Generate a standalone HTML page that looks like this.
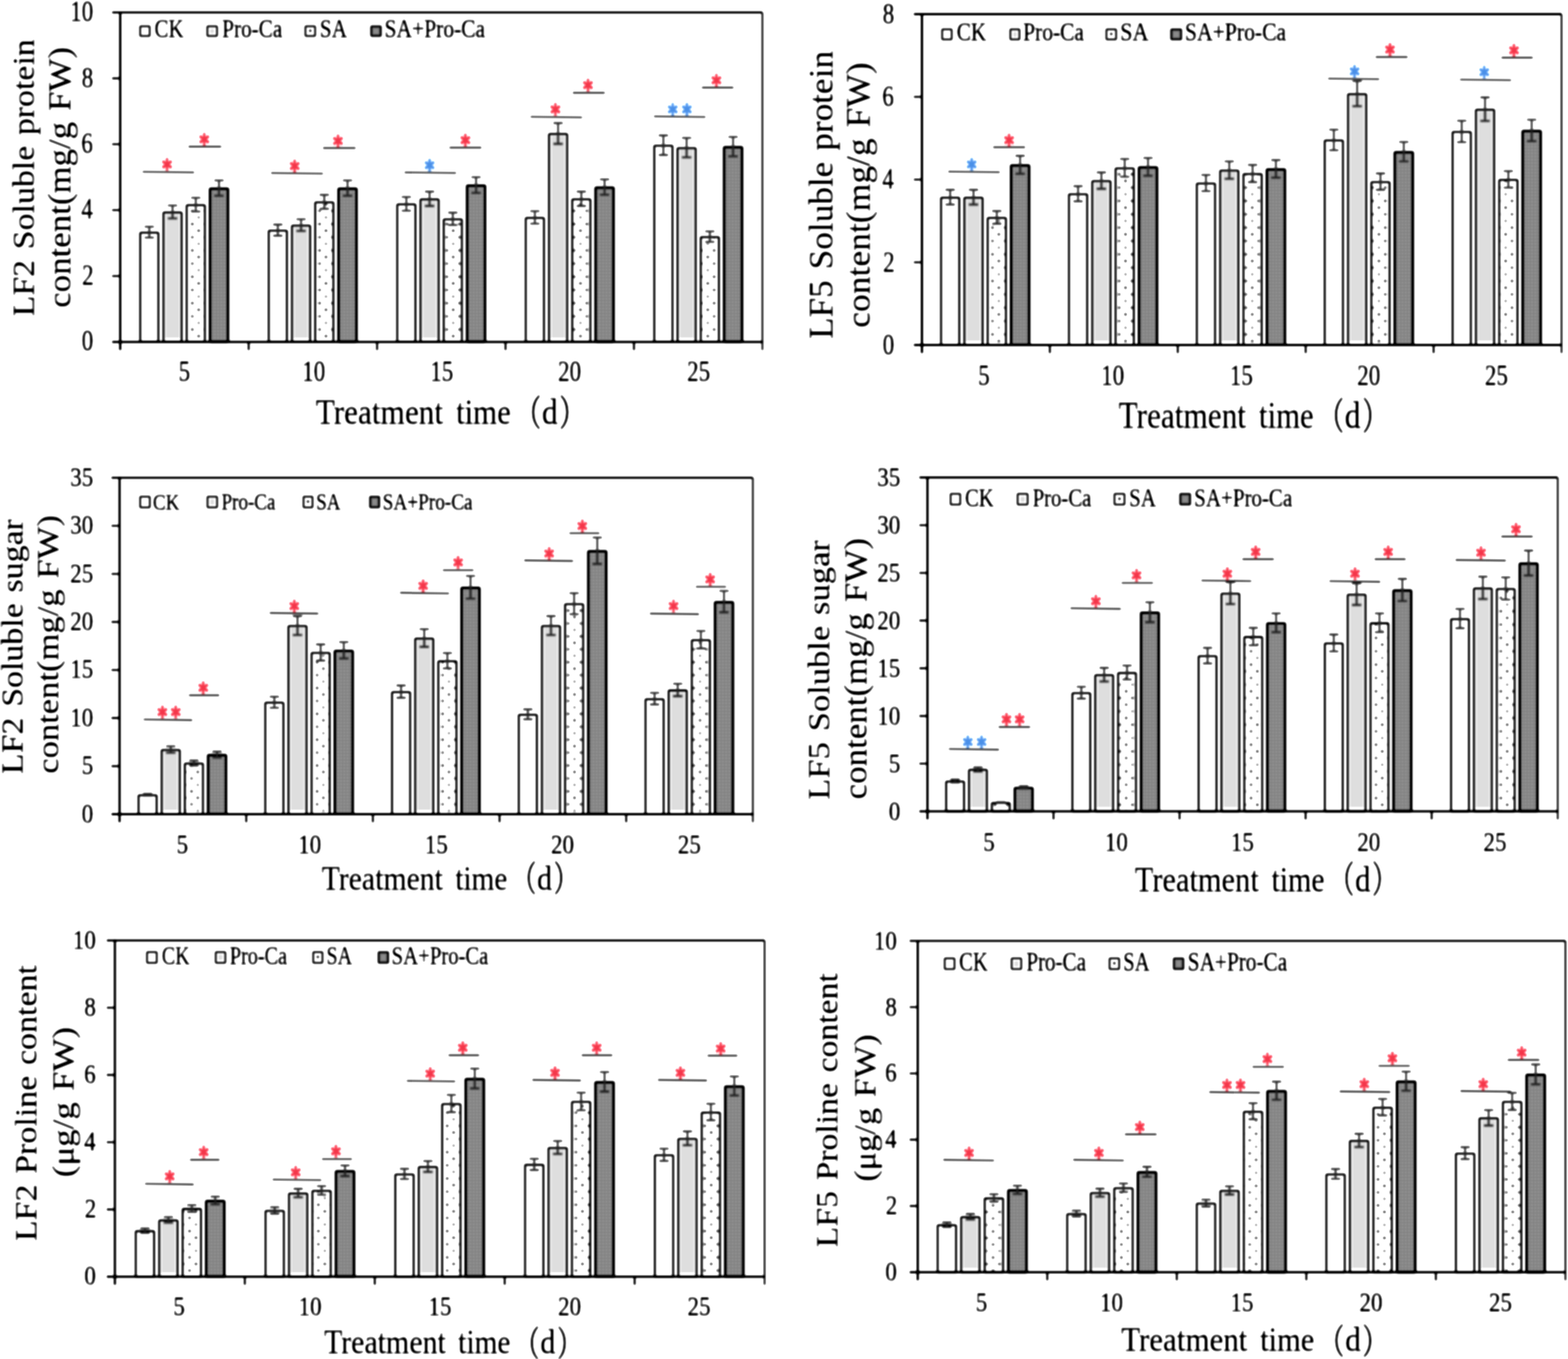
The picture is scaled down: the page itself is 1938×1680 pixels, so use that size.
<!DOCTYPE html>
<html lang="en"><head><meta charset="utf-8"><title>Soluble protein, soluble sugar and proline content</title>
<style>html,body{margin:0;padding:0;background:#fff}body{width:1938px;height:1680px;overflow:hidden}svg{display:block;font-family:"Liberation Serif","Noto Serif CJK SC",serif}text.s{stroke-width:0.6px}text.p{stroke-width:1.3px}svg{filter:blur(0.8px) contrast(1.4)}</style></head><body>
<svg width="1938" height="1680" viewBox="0 0 1938 1680">
<rect width="1938" height="1680" fill="#fff"/>
<defs><filter id="tx" x="-2%" y="-2%" width="104%" height="104%" color-interpolation-filters="sRGB"><feGaussianBlur stdDeviation="1.15"/><feComponentTransfer><feFuncA type="linear" slope="2.2" intercept="-0.6"/></feComponentTransfer></filter></defs>
<defs><pattern id="dark" patternUnits="userSpaceOnUse" width="4" height="4"><rect width="4" height="4" fill="#7d7d7d"/><rect x="0.5" y="0.5" width="2" height="2" fill="#9f9f9f"/></pattern></defs>
<g id="panelA">
<defs><pattern id="dotsA" patternUnits="userSpaceOnUse" x="235.7" y="340.2" width="15.73" height="32.6"><rect width="15.73" height="32.6" fill="#fff"/><circle cx="2" cy="2" r="1.75" fill="#222"/><circle cx="2" cy="18.3" r="1.75" fill="#3a3a3a"/><circle cx="9.87" cy="10.15" r="1.75" fill="#2c2c2c"/><circle cx="9.87" cy="26.45" r="1.7" fill="#666"/></pattern></defs>
<rect x="173.31" y="287.6" width="22.46" height="135.1" fill="#fff" stroke="#111" stroke-width="2.8" stroke-linejoin="round" rx="1.4"/>
<rect x="202.03" y="262.6" width="22.46" height="160.1" fill="#fff" stroke="#111" stroke-width="2.8" stroke-linejoin="round" rx="1.4"/>
<rect x="204.63" y="264.6" width="17.26" height="153.5" fill="#c3c3c3"/>
<rect x="230.75" y="253.6" width="22.46" height="169.1" fill="url(#dotsA)" stroke="#111" stroke-width="2.8" stroke-linejoin="round" rx="1.4"/>
<rect x="259.47" y="233.1" width="22.46" height="189.6" fill="url(#dark)" stroke="#0a0a0a" stroke-width="3.2" stroke-linejoin="round" rx="1.4"/>
<rect x="332.16" y="285.1" width="22.46" height="137.6" fill="#fff" stroke="#111" stroke-width="2.8" stroke-linejoin="round" rx="1.4"/>
<rect x="360.88" y="278.85" width="22.46" height="143.85" fill="#fff" stroke="#111" stroke-width="2.8" stroke-linejoin="round" rx="1.4"/>
<rect x="363.48" y="280.85" width="17.26" height="137.25" fill="#c3c3c3"/>
<rect x="389.6" y="250.1" width="22.46" height="172.6" fill="url(#dotsA)" stroke="#111" stroke-width="2.8" stroke-linejoin="round" rx="1.4"/>
<rect x="418.32" y="233.1" width="22.46" height="189.6" fill="url(#dark)" stroke="#0a0a0a" stroke-width="3.2" stroke-linejoin="round" rx="1.4"/>
<rect x="491" y="252.6" width="22.46" height="170.1" fill="#fff" stroke="#111" stroke-width="2.8" stroke-linejoin="round" rx="1.4"/>
<rect x="519.72" y="246.35" width="22.46" height="176.35" fill="#fff" stroke="#111" stroke-width="2.8" stroke-linejoin="round" rx="1.4"/>
<rect x="522.32" y="248.35" width="17.26" height="169.75" fill="#c3c3c3"/>
<rect x="548.44" y="271.1" width="22.46" height="151.6" fill="url(#dotsA)" stroke="#111" stroke-width="2.8" stroke-linejoin="round" rx="1.4"/>
<rect x="577.16" y="229.35" width="22.46" height="193.35" fill="url(#dark)" stroke="#0a0a0a" stroke-width="3.2" stroke-linejoin="round" rx="1.4"/>
<rect x="649.84" y="269.35" width="22.46" height="153.35" fill="#fff" stroke="#111" stroke-width="2.8" stroke-linejoin="round" rx="1.4"/>
<rect x="678.56" y="165.6" width="22.46" height="257.1" fill="#fff" stroke="#111" stroke-width="2.8" stroke-linejoin="round" rx="1.4"/>
<rect x="681.16" y="167.6" width="17.26" height="250.5" fill="#c3c3c3"/>
<rect x="707.28" y="246.35" width="22.46" height="176.35" fill="url(#dotsA)" stroke="#111" stroke-width="2.8" stroke-linejoin="round" rx="1.4"/>
<rect x="736.01" y="231.85" width="22.46" height="190.85" fill="url(#dark)" stroke="#0a0a0a" stroke-width="3.2" stroke-linejoin="round" rx="1.4"/>
<rect x="808.69" y="180.1" width="22.46" height="242.6" fill="#fff" stroke="#111" stroke-width="2.8" stroke-linejoin="round" rx="1.4"/>
<rect x="837.41" y="183.1" width="22.46" height="239.6" fill="#fff" stroke="#111" stroke-width="2.8" stroke-linejoin="round" rx="1.4"/>
<rect x="840.01" y="185.1" width="17.26" height="233" fill="#c3c3c3"/>
<rect x="866.13" y="293.1" width="22.46" height="129.6" fill="url(#dotsA)" stroke="#111" stroke-width="2.8" stroke-linejoin="round" rx="1.4"/>
<rect x="894.85" y="181.85" width="22.46" height="240.85" fill="url(#dark)" stroke="#0a0a0a" stroke-width="3.2" stroke-linejoin="round" rx="1.4"/>
<path d="M184.54 280.21V293.79M178.79 280.21H190.29M178.79 293.79H190.29M213.26 253.97V270.04M207.51 253.97H219.01M207.51 270.04H219.01M241.99 244.51V261.49M236.24 244.51H247.74M236.24 261.49H247.74M270.71 222.99V242.01M264.96 222.99H276.46M264.96 242.01H276.46M343.39 277.59V291.41M337.64 277.59H349.14M337.64 291.41H349.14M372.11 271.03V285.47M366.36 271.03H377.86M366.36 285.47H377.86M400.83 240.84V258.16M395.08 240.84H406.58M395.08 258.16H406.58M429.55 222.99V242.01M423.8 222.99H435.3M423.8 242.01H435.3M502.23 243.47V260.54M496.48 243.47H507.98M496.48 260.54H507.98M530.95 236.9V254.6M525.2 236.9H536.7M525.2 254.6H536.7M559.67 262.89V278.11M553.92 262.89H565.42M553.92 278.11H565.42M588.39 219.05V238.45M582.64 219.05H594.14M582.64 238.45H594.14M661.08 261.05V276.45M655.33 261.05H666.83M655.33 276.45H666.83M689.8 152.12V177.88M684.05 152.12H695.55M684.05 177.88H695.55M718.52 236.9V254.6M712.77 236.9H724.27M712.77 254.6H724.27M747.24 221.68V240.82M741.49 221.68H752.99M741.49 240.82H752.99M819.92 167.34V191.66M814.17 167.34H825.67M814.17 191.66H825.67M848.64 170.49V194.51M842.89 170.49H854.39M842.89 194.51H854.39M877.36 285.99V299.01M871.61 285.99H883.11M871.61 299.01H883.11M906.08 169.18V193.32M900.33 169.18H911.83M900.33 193.32H911.83" fill="none" stroke="#3a3a3a" stroke-width="2.6"/>
<path d="M138.6 15.4H942.3" stroke="#000" stroke-width="2.9" fill="none"/>
<path d="M942.3 15.4V432.7" stroke="#111" stroke-width="2.4" fill="none"/>
<path d="M148.6 14.4V432.7" stroke="#000" stroke-width="3.0" fill="none"/>
<path d="M138.6 422.7H943.1" stroke="#000" stroke-width="3.0" fill="none"/>
<path d="M138.6 341.24H148.6M138.6 259.78H148.6M138.6 178.32H148.6M138.6 96.86H148.6M307.34 422.7V432.7M466.08 422.7V432.7M624.82 422.7V432.7M783.56 422.7V432.7" stroke="#000" stroke-width="2.6" fill="none"/>
<rect x="173.25" y="32.5" width="11.75" height="12" rx="1.0" fill="#fff" stroke="#111" stroke-width="2.5" stroke-linejoin="round"/>
<rect x="256.25" y="32.5" width="12" height="12" rx="1.0" fill="#fff" stroke="#111" stroke-width="2.5" stroke-linejoin="round"/>
<rect x="259.2" y="35.45" width="6.1" height="6.1" fill="#c2c2c2"/>
<rect x="377.5" y="32.5" width="12" height="12" rx="1.0" fill="#fff" stroke="#111" stroke-width="2.5" stroke-linejoin="round"/>
<circle cx="383.5" cy="38" r="1.8" fill="#222"/>
<rect x="458.75" y="32.5" width="12" height="12" rx="1.0" fill="#737373" stroke="#111" stroke-width="2.5" stroke-linejoin="round"/>
<rect x="461.5" y="35.25" width="6.5" height="6.5" fill="#878787"/>
<path d="M176.25 212.35L240 213.15M233 181.25L273.5 181.25M335 213.85L399.25 214.65M399.25 183L439.5 183M500 213.1L563.75 213.9M555.5 182.5L595 182.5M655.75 144.35L719.5 145.15M708 114.75L747.5 114.75M808.25 143.85L872 144.65M867.5 108.25L906.5 108.25" stroke="#333" stroke-width="2.4" fill="none"/>
<g stroke="#000" stroke-width="0.35">
<text transform="translate(101.04,433.35) scale(0.7808,1)" font-size="36.5" fill="#000" class="s">0</text>
<text transform="translate(101.49,351.89) scale(0.7808,1)" font-size="36.5" fill="#000" class="s">2</text>
<text transform="translate(100.6,270.43) scale(0.7808,1)" font-size="36.5" fill="#000" class="s">4</text>
<text transform="translate(100.6,188.97) scale(0.7808,1)" font-size="36.5" fill="#000" class="s">6</text>
<text transform="translate(101.04,107.51) scale(0.7808,1)" font-size="36.5" fill="#000" class="s">8</text>
<text transform="translate(86.79,26.05) scale(0.7808,1)" font-size="36.5" fill="#000" class="s">10</text>
<text transform="translate(220.65,471.25) scale(0.7808,1)" font-size="36.5" fill="#000" class="s">5</text>
<text transform="translate(373.48,471.25) scale(0.7808,1)" font-size="36.5" fill="#000" class="s">10</text>
<text transform="translate(531.68,471.25) scale(0.7808,1)" font-size="36.5" fill="#000" class="s">15</text>
<text transform="translate(689.65,471.25) scale(0.7808,1)" font-size="36.5" fill="#000" class="s">20</text>
<text transform="translate(849.15,471.25) scale(0.7808,1)" font-size="36.5" fill="#000" class="s">25</text>
<text transform="translate(390.15,523.75) scale(0.8853,1)" font-size="43.7" fill="#000">Treatment</text>
<text transform="translate(563.68,523.75) scale(0.8705,1)" font-size="43.7" fill="#000">time</text>
<text transform="translate(638.7,526.35) scale(0.6776,1)" font-size="43.7" fill="#000" class="p" font-family="'Liberation Serif','Noto Serif CJK SC',serif">（</text>
<text transform="translate(669.66,523.75) scale(0.8979,1)" font-size="43.7" fill="#000">d</text>
<text transform="translate(691.82,526.35) scale(0.6800,1)" font-size="43.7" fill="#000" class="p" font-family="'Liberation Serif','Noto Serif CJK SC',serif">）</text>
<text transform="translate(41.7,391.05) rotate(-90) scale(1.0838,1)" font-size="38.65" fill="#000" word-spacing="2.4">LF2 Soluble protein</text>
<text transform="translate(87,380.55) rotate(-90) scale(1.0807,1)" font-size="39.91" fill="#000" word-spacing="2.4">content(mg/g FW)</text>
<text transform="translate(190.94,46.25) scale(0.8086,1)" font-size="31.95" fill="#000" class="s">CK</text>
<text transform="translate(274.59,46.25) scale(0.8210,1)" font-size="31.95" fill="#000" class="s">Pro-Ca</text>
<text transform="translate(395.36,46.25) scale(0.8195,1)" font-size="31.95" fill="#000" class="s">SA</text>
<text transform="translate(475.34,46.25) scale(0.8322,1)" font-size="31.95" fill="#000" class="s">SA+Pro-Ca</text>
</g>
<g>
<text transform="translate(199.35,211.25) scale(0.8253,1)" font-family="'DejaVu Sans',sans-serif" font-size="21.24" fill="#d34b59" style="stroke:#d34b59;stroke-width:0.7px">✱</text>
<text transform="translate(245.35,179.75) scale(0.8253,1)" font-family="'DejaVu Sans',sans-serif" font-size="21.24" fill="#d34b59" style="stroke:#d34b59;stroke-width:0.7px">✱</text>
<text transform="translate(357.1,212.75) scale(0.8253,1)" font-family="'DejaVu Sans',sans-serif" font-size="21.24" fill="#d34b59" style="stroke:#d34b59;stroke-width:0.7px">✱</text>
<text transform="translate(410.6,181.5) scale(0.8253,1)" font-family="'DejaVu Sans',sans-serif" font-size="21.24" fill="#d34b59" style="stroke:#d34b59;stroke-width:0.7px">✱</text>
<text transform="translate(523.85,212) scale(0.8253,1)" font-family="'DejaVu Sans',sans-serif" font-size="21.24" fill="#598bca" style="stroke:#598bca;stroke-width:0.7px">✱</text>
<text transform="translate(568.1,181) scale(0.8253,1)" font-family="'DejaVu Sans',sans-serif" font-size="21.24" fill="#d34b59" style="stroke:#d34b59;stroke-width:0.7px">✱</text>
<text transform="translate(679.35,143.25) scale(0.8253,1)" font-family="'DejaVu Sans',sans-serif" font-size="21.24" fill="#d34b59" style="stroke:#d34b59;stroke-width:0.7px">✱</text>
<text transform="translate(719.6,113.25) scale(0.8253,1)" font-family="'DejaVu Sans',sans-serif" font-size="21.24" fill="#d34b59" style="stroke:#d34b59;stroke-width:0.7px">✱</text>
<text transform="translate(824.35,142.75) scale(0.8253,1)" font-family="'DejaVu Sans',sans-serif" font-size="21.24" fill="#598bca" style="stroke:#598bca;stroke-width:0.7px">✱</text>
<text transform="translate(841.85,142.75) scale(0.8253,1)" font-family="'DejaVu Sans',sans-serif" font-size="21.24" fill="#598bca" style="stroke:#598bca;stroke-width:0.7px">✱</text>
<text transform="translate(878.35,106.75) scale(0.8253,1)" font-family="'DejaVu Sans',sans-serif" font-size="21.24" fill="#d34b59" style="stroke:#d34b59;stroke-width:0.7px">✱</text>
</g>
</g>
<g id="panelB">
<defs><pattern id="dotsB" patternUnits="userSpaceOnUse" x="1224.7" y="279.4" width="15.66" height="33"><rect width="15.66" height="33" fill="#fff"/><circle cx="2" cy="2" r="1.75" fill="#222"/><circle cx="2" cy="18.5" r="1.75" fill="#3a3a3a"/><circle cx="9.83" cy="10.25" r="1.75" fill="#2c2c2c"/><circle cx="9.83" cy="26.75" r="1.7" fill="#666"/></pattern></defs>
<rect x="1163.12" y="244.35" width="22.54" height="182.15" fill="#fff" stroke="#111" stroke-width="2.8" stroke-linejoin="round" rx="1.4"/>
<rect x="1191.94" y="244.35" width="22.54" height="182.15" fill="#fff" stroke="#111" stroke-width="2.8" stroke-linejoin="round" rx="1.4"/>
<rect x="1194.54" y="246.35" width="17.34" height="175.55" fill="#c3c3c3"/>
<rect x="1220.76" y="269.35" width="22.54" height="157.15" fill="url(#dotsB)" stroke="#111" stroke-width="2.8" stroke-linejoin="round" rx="1.4"/>
<rect x="1249.58" y="204.35" width="22.54" height="222.15" fill="url(#dark)" stroke="#0a0a0a" stroke-width="3.2" stroke-linejoin="round" rx="1.4"/>
<rect x="1321.19" y="240.1" width="22.54" height="186.4" fill="#fff" stroke="#111" stroke-width="2.8" stroke-linejoin="round" rx="1.4"/>
<rect x="1350.01" y="223.85" width="22.54" height="202.65" fill="#fff" stroke="#111" stroke-width="2.8" stroke-linejoin="round" rx="1.4"/>
<rect x="1352.61" y="225.85" width="17.34" height="196.05" fill="#c3c3c3"/>
<rect x="1378.83" y="208.1" width="22.54" height="218.4" fill="url(#dotsB)" stroke="#111" stroke-width="2.8" stroke-linejoin="round" rx="1.4"/>
<rect x="1407.65" y="206.85" width="22.54" height="219.65" fill="url(#dark)" stroke="#0a0a0a" stroke-width="3.2" stroke-linejoin="round" rx="1.4"/>
<rect x="1479.25" y="226.85" width="22.54" height="199.65" fill="#fff" stroke="#111" stroke-width="2.8" stroke-linejoin="round" rx="1.4"/>
<rect x="1508.07" y="210.85" width="22.54" height="215.65" fill="#fff" stroke="#111" stroke-width="2.8" stroke-linejoin="round" rx="1.4"/>
<rect x="1510.67" y="212.85" width="17.34" height="209.05" fill="#c3c3c3"/>
<rect x="1536.89" y="215.1" width="22.54" height="211.4" fill="url(#dotsB)" stroke="#111" stroke-width="2.8" stroke-linejoin="round" rx="1.4"/>
<rect x="1565.71" y="209.35" width="22.54" height="217.15" fill="url(#dark)" stroke="#0a0a0a" stroke-width="3.2" stroke-linejoin="round" rx="1.4"/>
<rect x="1637.31" y="173.6" width="22.54" height="252.9" fill="#fff" stroke="#111" stroke-width="2.8" stroke-linejoin="round" rx="1.4"/>
<rect x="1666.13" y="116.35" width="22.54" height="310.15" fill="#fff" stroke="#111" stroke-width="2.8" stroke-linejoin="round" rx="1.4"/>
<rect x="1668.73" y="118.35" width="17.34" height="303.55" fill="#c3c3c3"/>
<rect x="1694.95" y="225.1" width="22.54" height="201.4" fill="url(#dotsB)" stroke="#111" stroke-width="2.8" stroke-linejoin="round" rx="1.4"/>
<rect x="1723.77" y="188.1" width="22.54" height="238.4" fill="url(#dark)" stroke="#0a0a0a" stroke-width="3.2" stroke-linejoin="round" rx="1.4"/>
<rect x="1795.38" y="163.1" width="22.54" height="263.4" fill="#fff" stroke="#111" stroke-width="2.8" stroke-linejoin="round" rx="1.4"/>
<rect x="1824.19" y="135.6" width="22.54" height="290.9" fill="#fff" stroke="#111" stroke-width="2.8" stroke-linejoin="round" rx="1.4"/>
<rect x="1826.79" y="137.6" width="17.34" height="284.3" fill="#c3c3c3"/>
<rect x="1853.01" y="222.35" width="22.54" height="204.15" fill="url(#dotsB)" stroke="#111" stroke-width="2.8" stroke-linejoin="round" rx="1.4"/>
<rect x="1881.83" y="161.85" width="22.54" height="264.65" fill="url(#dark)" stroke="#0a0a0a" stroke-width="3.2" stroke-linejoin="round" rx="1.4"/>
<path d="M1174.4 234.61V252.89M1168.65 234.61H1180.15M1168.65 252.89H1180.15M1203.22 234.61V252.89M1197.47 234.61H1208.97M1197.47 252.89H1208.97M1232.03 260.86V276.64M1226.28 260.86H1237.78M1226.28 276.64H1237.78M1260.85 192.61V214.89M1255.1 192.61H1266.6M1255.1 214.89H1266.6M1332.46 230.15V248.85M1326.71 230.15H1338.21M1326.71 248.85H1338.21M1361.28 213.09V233.41M1355.53 213.09H1367.03M1355.53 233.41H1367.03M1390.1 196.55V218.45M1384.35 196.55H1395.85M1384.35 218.45H1395.85M1418.92 195.24V217.26M1413.17 195.24H1424.67M1413.17 217.26H1424.67M1490.52 216.24V236.26M1484.77 216.24H1496.27M1484.77 236.26H1496.27M1519.34 199.44V221.06M1513.59 199.44H1525.09M1513.59 221.06H1525.09M1548.16 203.9V225.1M1542.41 203.9H1553.91M1542.41 225.1H1553.91M1576.98 197.86V219.64M1571.23 197.86H1582.73M1571.23 219.64H1582.73M1648.58 160.32V185.68M1642.83 160.32H1654.33M1642.83 185.68H1654.33M1677.4 100.21V131.29M1671.65 100.21H1683.15M1671.65 131.29H1683.15M1706.22 214.4V234.6M1700.47 214.4H1711.97M1700.47 234.6H1711.97M1735.04 175.55V199.45M1729.29 175.55H1740.79M1729.29 199.45H1740.79M1806.65 149.3V175.7M1800.9 149.3H1812.4M1800.9 175.7H1812.4M1835.47 120.42V149.57M1829.72 120.42H1841.22M1829.72 149.57H1841.22M1864.28 211.51V231.99M1858.53 211.51H1870.03M1858.53 231.99H1870.03M1893.1 147.99V174.51M1887.35 147.99H1898.85M1887.35 174.51H1898.85" fill="none" stroke="#3a3a3a" stroke-width="2.6"/>
<path d="M1129.5 17.5H1930" stroke="#000" stroke-width="2.9" fill="none"/>
<path d="M1930 17.5V436.5" stroke="#111" stroke-width="2.4" fill="none"/>
<path d="M1139.5 16.5V436.5" stroke="#000" stroke-width="3.0" fill="none"/>
<path d="M1129.5 426.5H1930.8" stroke="#000" stroke-width="3.0" fill="none"/>
<path d="M1129.5 324.25H1139.5M1129.5 222H1139.5M1129.5 119.75H1139.5M1297.6 426.5V436.5M1455.7 426.5V436.5M1613.8 426.5V436.5M1771.9 426.5V436.5" stroke="#000" stroke-width="2.6" fill="none"/>
<rect x="1164.5" y="36.25" width="11.75" height="12.5" rx="1.0" fill="#fff" stroke="#111" stroke-width="2.5" stroke-linejoin="round"/>
<rect x="1248.75" y="36.25" width="11.25" height="12.5" rx="1.0" fill="#fff" stroke="#111" stroke-width="2.5" stroke-linejoin="round"/>
<rect x="1251.7" y="39.2" width="5.35" height="6.6" fill="#c2c2c2"/>
<rect x="1367.5" y="36.25" width="12" height="12.5" rx="1.0" fill="#fff" stroke="#111" stroke-width="2.5" stroke-linejoin="round"/>
<circle cx="1373.5" cy="42" r="1.8" fill="#222"/>
<rect x="1447.5" y="36.25" width="12.5" height="12.5" rx="1.0" fill="#737373" stroke="#111" stroke-width="2.5" stroke-linejoin="round"/>
<rect x="1450.25" y="39" width="7" height="7" fill="#878787"/>
<path d="M1172 212.1L1235.75 212.9M1227.5 182L1267 182M1641.5 97.1L1704.75 97.9M1700.25 70.5L1739.75 70.5M1804.5 98.35L1867.75 99.15M1855.75 71.25L1894.5 71.25" stroke="#333" stroke-width="2.4" fill="none"/>
<g stroke="#000" stroke-width="0.35">
<text transform="translate(1091.04,437.75) scale(0.8143,1)" font-size="35" fill="#000" class="s">0</text>
<text transform="translate(1091.49,335.5) scale(0.8143,1)" font-size="35" fill="#000" class="s">2</text>
<text transform="translate(1090.6,233.25) scale(0.8143,1)" font-size="35" fill="#000" class="s">4</text>
<text transform="translate(1090.6,131) scale(0.8143,1)" font-size="35" fill="#000" class="s">6</text>
<text transform="translate(1091.04,28.76) scale(0.8143,1)" font-size="35" fill="#000" class="s">8</text>
<text transform="translate(1208.95,475.5) scale(0.8143,1)" font-size="35" fill="#000" class="s">5</text>
<text transform="translate(1361.08,475.5) scale(0.8143,1)" font-size="35" fill="#000" class="s">10</text>
<text transform="translate(1520.08,475.5) scale(0.8143,1)" font-size="35" fill="#000" class="s">15</text>
<text transform="translate(1677.55,475.5) scale(0.8143,1)" font-size="35" fill="#000" class="s">20</text>
<text transform="translate(1835.35,475.5) scale(0.8143,1)" font-size="35" fill="#000" class="s">25</text>
<text transform="translate(1382.5,528.8) scale(0.8485,1)" font-size="45.6" fill="#000">Treatment</text>
<text transform="translate(1556.06,528.8) scale(0.8344,1)" font-size="45.6" fill="#000">time</text>
<text transform="translate(1631.09,531.4) scale(0.6495,1)" font-size="45.6" fill="#000" class="p" font-family="'Liberation Serif','Noto Serif CJK SC',serif">（</text>
<text transform="translate(1662.06,528.8) scale(0.8606,1)" font-size="45.6" fill="#000">d</text>
<text transform="translate(1684.22,531.4) scale(0.6518,1)" font-size="45.6" fill="#000" class="p" font-family="'Liberation Serif','Noto Serif CJK SC',serif">）</text>
<text transform="translate(1029,419.08) rotate(-90) scale(1.0487,1)" font-size="41.58" fill="#000" word-spacing="2.4">LF5 Soluble protein</text>
<text transform="translate(1075.2,405.17) rotate(-90) scale(1.0235,1)" font-size="42.93" fill="#000" word-spacing="2.4">content(mg/g FW)</text>
<text transform="translate(1182.43,50) scale(0.8097,1)" font-size="32.37" fill="#000" class="s">CK</text>
<text transform="translate(1264.59,50) scale(0.8187,1)" font-size="32.37" fill="#000" class="s">Pro-Ca</text>
<text transform="translate(1384.54,50) scale(0.8472,1)" font-size="32.37" fill="#000" class="s">SA</text>
<text transform="translate(1464.58,50) scale(0.8266,1)" font-size="32.37" fill="#000" class="s">SA+Pro-Ca</text>
</g>
<g>
<text transform="translate(1193.85,211) scale(0.8253,1)" font-family="'DejaVu Sans',sans-serif" font-size="21.24" fill="#598bca" style="stroke:#598bca;stroke-width:0.7px">✱</text>
<text transform="translate(1240.1,180.5) scale(0.8253,1)" font-family="'DejaVu Sans',sans-serif" font-size="21.24" fill="#d34b59" style="stroke:#d34b59;stroke-width:0.7px">✱</text>
<text transform="translate(1667.1,96) scale(0.8253,1)" font-family="'DejaVu Sans',sans-serif" font-size="21.24" fill="#598bca" style="stroke:#598bca;stroke-width:0.7px">✱</text>
<text transform="translate(1710.85,69) scale(0.8253,1)" font-family="'DejaVu Sans',sans-serif" font-size="21.24" fill="#d34b59" style="stroke:#d34b59;stroke-width:0.7px">✱</text>
<text transform="translate(1827.35,97.25) scale(0.8253,1)" font-family="'DejaVu Sans',sans-serif" font-size="21.24" fill="#598bca" style="stroke:#598bca;stroke-width:0.7px">✱</text>
<text transform="translate(1864.1,69.75) scale(0.8253,1)" font-family="'DejaVu Sans',sans-serif" font-size="21.24" fill="#d34b59" style="stroke:#d34b59;stroke-width:0.7px">✱</text>
</g>
</g>
<g id="panelC">
<defs><pattern id="dotsC" patternUnits="userSpaceOnUse" x="389.9" y="880.5" width="15.52" height="31.94"><rect width="15.52" height="31.94" fill="#fff"/><circle cx="2" cy="2" r="1.75" fill="#222"/><circle cx="2" cy="17.97" r="1.75" fill="#3a3a3a"/><circle cx="9.76" cy="9.98" r="1.75" fill="#2c2c2c"/><circle cx="9.76" cy="25.96" r="1.7" fill="#666"/></pattern></defs>
<rect x="171.25" y="983.2" width="22.38" height="23.3" fill="#fff" stroke="#111" stroke-width="2.8" stroke-linejoin="round" rx="1.4"/>
<rect x="199.86" y="927.1" width="22.38" height="79.4" fill="#fff" stroke="#111" stroke-width="2.8" stroke-linejoin="round" rx="1.4"/>
<rect x="202.46" y="929.1" width="17.18" height="72.8" fill="#c3c3c3"/>
<rect x="228.47" y="943.9" width="22.38" height="62.6" fill="url(#dotsC)" stroke="#111" stroke-width="2.8" stroke-linejoin="round" rx="1.4"/>
<rect x="257.07" y="933.4" width="22.38" height="73.1" fill="url(#dark)" stroke="#0a0a0a" stroke-width="3.2" stroke-linejoin="round" rx="1.4"/>
<rect x="327.9" y="868.7" width="22.38" height="137.8" fill="#fff" stroke="#111" stroke-width="2.8" stroke-linejoin="round" rx="1.4"/>
<rect x="356.51" y="773.9" width="22.38" height="232.6" fill="#fff" stroke="#111" stroke-width="2.8" stroke-linejoin="round" rx="1.4"/>
<rect x="359.11" y="775.9" width="17.18" height="226" fill="#c3c3c3"/>
<rect x="385.12" y="807.2" width="22.38" height="199.3" fill="url(#dotsC)" stroke="#111" stroke-width="2.8" stroke-linejoin="round" rx="1.4"/>
<rect x="413.72" y="804.5" width="22.38" height="202" fill="url(#dark)" stroke="#0a0a0a" stroke-width="3.2" stroke-linejoin="round" rx="1.4"/>
<rect x="484.55" y="855.6" width="22.38" height="150.9" fill="#fff" stroke="#111" stroke-width="2.8" stroke-linejoin="round" rx="1.4"/>
<rect x="513.16" y="789.3" width="22.38" height="217.2" fill="#fff" stroke="#111" stroke-width="2.8" stroke-linejoin="round" rx="1.4"/>
<rect x="515.76" y="791.3" width="17.18" height="210.6" fill="#c3c3c3"/>
<rect x="541.77" y="817.3" width="22.38" height="189.2" fill="url(#dotsC)" stroke="#111" stroke-width="2.8" stroke-linejoin="round" rx="1.4"/>
<rect x="570.37" y="726.6" width="22.38" height="279.9" fill="url(#dark)" stroke="#0a0a0a" stroke-width="3.2" stroke-linejoin="round" rx="1.4"/>
<rect x="641.2" y="883.6" width="22.38" height="122.9" fill="#fff" stroke="#111" stroke-width="2.8" stroke-linejoin="round" rx="1.4"/>
<rect x="669.81" y="773.9" width="22.38" height="232.6" fill="#fff" stroke="#111" stroke-width="2.8" stroke-linejoin="round" rx="1.4"/>
<rect x="672.41" y="775.9" width="17.18" height="226" fill="#c3c3c3"/>
<rect x="698.42" y="746.9" width="22.38" height="259.6" fill="url(#dotsC)" stroke="#111" stroke-width="2.8" stroke-linejoin="round" rx="1.4"/>
<rect x="727.02" y="681.4" width="22.38" height="325.1" fill="url(#dark)" stroke="#0a0a0a" stroke-width="3.2" stroke-linejoin="round" rx="1.4"/>
<rect x="797.85" y="864.3" width="22.38" height="142.2" fill="#fff" stroke="#111" stroke-width="2.8" stroke-linejoin="round" rx="1.4"/>
<rect x="826.46" y="853.5" width="22.38" height="153" fill="#fff" stroke="#111" stroke-width="2.8" stroke-linejoin="round" rx="1.4"/>
<rect x="829.06" y="855.5" width="17.18" height="146.4" fill="#c3c3c3"/>
<rect x="855.07" y="791.4" width="22.38" height="215.1" fill="url(#dotsC)" stroke="#111" stroke-width="2.8" stroke-linejoin="round" rx="1.4"/>
<rect x="883.67" y="744.3" width="22.38" height="262.2" fill="url(#dark)" stroke="#0a0a0a" stroke-width="3.2" stroke-linejoin="round" rx="1.4"/>
<path d="M182.44 981.4V983.8M176.69 981.4H188.19M176.69 983.8H188.19M211.05 922.5V930.5M205.3 922.5H216.8M205.3 930.5H216.8M239.65 940.14V946.46M233.9 940.14H245.4M233.9 946.46H245.4M268.26 929.12V936.48M262.51 929.12H274.01M262.51 936.48H274.01M339.09 861.18V875.02M333.34 861.18H344.84M333.34 875.02H344.84M367.7 761.64V784.96M361.95 761.64H373.45M361.95 784.96H373.45M396.3 796.61V816.6M390.55 796.61H402.05M390.55 816.6H402.05M424.91 793.77V814.03M419.16 793.77H430.66M419.16 814.03H430.66M495.74 847.42V862.58M489.99 847.42H501.49M489.99 862.58H501.49M524.35 777.81V799.59M518.6 777.81H530.1M518.6 799.59H530.1M552.95 807.21V826.19M547.2 807.21H558.7M547.2 826.19H558.7M581.56 711.98V740.02M575.81 711.98H587.31M575.81 740.02H587.31M652.39 876.83V889.17M646.64 876.83H658.14M646.64 889.17H658.14M681 761.64V784.96M675.25 761.64H686.75M675.25 784.96H686.75M709.6 733.29V759.31M703.85 733.29H715.35M703.85 759.31H715.35M738.21 664.51V697.08M732.46 664.51H743.96M732.46 697.08H743.96M809.04 856.56V870.84M803.29 856.56H814.79M803.29 870.84H814.79M837.65 845.22V860.58M831.9 845.22H843.4M831.9 860.58H843.4M866.25 780.01V801.58M860.5 780.01H872M860.5 801.58H872M894.86 730.56V756.84M889.11 730.56H900.61M889.11 756.84H900.61" fill="none" stroke="#3a3a3a" stroke-width="2.6"/>
<path d="M137.8 590.6H930.5" stroke="#000" stroke-width="2.9" fill="none"/>
<path d="M930.5 590.6V1016.5" stroke="#111" stroke-width="2.4" fill="none"/>
<path d="M147.8 589.6V1016.5" stroke="#000" stroke-width="3.0" fill="none"/>
<path d="M137.8 1006.5H931.3" stroke="#000" stroke-width="3.0" fill="none"/>
<path d="M137.8 947.09H147.8M137.8 887.67H147.8M137.8 828.26H147.8M137.8 768.84H147.8M137.8 709.43H147.8M137.8 650.01H147.8M304.34 1006.5V1016.5M460.88 1006.5V1016.5M617.42 1006.5V1016.5M773.96 1006.5V1016.5" stroke="#000" stroke-width="2.6" fill="none"/>
<rect x="173.25" y="613.95" width="11.9" height="13.3" rx="1.0" fill="#fff" stroke="#111" stroke-width="2.5" stroke-linejoin="round"/>
<rect x="256.45" y="613.95" width="11.9" height="13.3" rx="1.0" fill="#fff" stroke="#111" stroke-width="2.5" stroke-linejoin="round"/>
<rect x="259.4" y="616.9" width="6" height="7.4" fill="#c2c2c2"/>
<rect x="375.15" y="613.95" width="11.1" height="13.3" rx="1.0" fill="#fff" stroke="#111" stroke-width="2.5" stroke-linejoin="round"/>
<circle cx="380.7" cy="620.1" r="1.8" fill="#222"/>
<rect x="457.35" y="613.95" width="11.4" height="13.3" rx="1.0" fill="#737373" stroke="#111" stroke-width="2.5" stroke-linejoin="round"/>
<rect x="460.1" y="616.7" width="5.9" height="7.8" fill="#878787"/>
<path d="M177.5 889.4L237.7 890.2M233.5 859.5L271 859.5M333.3 757.7L393.5 758.5M494.4 732.8L555.1 733.6M547.3 704.9L585.3 704.9M647.9 692.7L708.4 693.5M703.7 659.1L740.9 659.1M803.2 758.5L864 759.3M860 725.4L897.5 725.4" stroke="#333" stroke-width="2.4" fill="none"/>
<g stroke="#000" stroke-width="0.35">
<text transform="translate(100.94,1016.69) scale(0.8636,1)" font-size="33" fill="#000" class="s">0</text>
<text transform="translate(100.94,957.27) scale(0.8636,1)" font-size="33" fill="#000" class="s">5</text>
<text transform="translate(86.69,897.86) scale(0.8636,1)" font-size="33" fill="#000" class="s">10</text>
<text transform="translate(86.69,838.45) scale(0.8636,1)" font-size="33" fill="#000" class="s">15</text>
<text transform="translate(86.69,779.03) scale(0.8636,1)" font-size="33" fill="#000" class="s">20</text>
<text transform="translate(86.69,719.62) scale(0.8636,1)" font-size="33" fill="#000" class="s">25</text>
<text transform="translate(86.69,660.2) scale(0.8636,1)" font-size="33" fill="#000" class="s">30</text>
<text transform="translate(86.69,600.79) scale(0.8636,1)" font-size="33" fill="#000" class="s">35</text>
<text transform="translate(218.15,1054.6) scale(0.8636,1)" font-size="33" fill="#000" class="s">5</text>
<text transform="translate(368.38,1054.6) scale(0.8636,1)" font-size="33" fill="#000" class="s">10</text>
<text transform="translate(524.88,1054.6) scale(0.8636,1)" font-size="33" fill="#000" class="s">15</text>
<text transform="translate(680.95,1054.6) scale(0.8636,1)" font-size="33" fill="#000" class="s">20</text>
<text transform="translate(837.65,1054.6) scale(0.8636,1)" font-size="33" fill="#000" class="s">25</text>
<text transform="translate(397.52,1099.6) scale(0.8562,1)" font-size="43.02" fill="#000">Treatment</text>
<text transform="translate(562.73,1099.6) scale(0.8419,1)" font-size="43.02" fill="#000">time</text>
<text transform="translate(634.16,1102.2) scale(0.6554,1)" font-size="43.02" fill="#000" class="p" font-family="'Liberation Serif','Noto Serif CJK SC',serif">（</text>
<text transform="translate(663.64,1099.6) scale(0.8684,1)" font-size="43.02" fill="#000">d</text>
<text transform="translate(684.73,1102.2) scale(0.6577,1)" font-size="43.02" fill="#000" class="p" font-family="'Liberation Serif','Noto Serif CJK SC',serif">）</text>
<text transform="translate(27.6,956.96) rotate(-90) scale(1.1352,1)" font-size="36.96" fill="#000" word-spacing="2.4">LF2 Soluble sugar</text>
<text transform="translate(72,956.54) rotate(-90) scale(1.1206,1)" font-size="38.16" fill="#000" word-spacing="2.4">content(mg/g FW)</text>
<text transform="translate(189.06,629.8) scale(0.8297,1)" font-size="28.39" fill="#000" class="s">CK</text>
<text transform="translate(273.73,629.8) scale(0.8309,1)" font-size="28.39" fill="#000" class="s">Pro-Ca</text>
<text transform="translate(390.73,629.8) scale(0.8310,1)" font-size="28.39" fill="#000" class="s">SA</text>
<text transform="translate(473.01,629.8) scale(0.8374,1)" font-size="28.39" fill="#000" class="s">SA+Pro-Ca</text>
</g>
<g>
<text transform="translate(193.4,888.3) scale(0.8253,1)" font-family="'DejaVu Sans',sans-serif" font-size="21.24" fill="#d34b59" style="stroke:#d34b59;stroke-width:0.7px">✱</text>
<text transform="translate(209.9,888.3) scale(0.8253,1)" font-family="'DejaVu Sans',sans-serif" font-size="21.24" fill="#d34b59" style="stroke:#d34b59;stroke-width:0.7px">✱</text>
<text transform="translate(243.9,858) scale(0.8253,1)" font-family="'DejaVu Sans',sans-serif" font-size="21.24" fill="#d34b59" style="stroke:#d34b59;stroke-width:0.7px">✱</text>
<text transform="translate(356.6,756.6) scale(0.8253,1)" font-family="'DejaVu Sans',sans-serif" font-size="21.24" fill="#d34b59" style="stroke:#d34b59;stroke-width:0.7px">✱</text>
<text transform="translate(515.8,731.7) scale(0.8253,1)" font-family="'DejaVu Sans',sans-serif" font-size="21.24" fill="#d34b59" style="stroke:#d34b59;stroke-width:0.7px">✱</text>
<text transform="translate(558.9,703.4) scale(0.8253,1)" font-family="'DejaVu Sans',sans-serif" font-size="21.24" fill="#d34b59" style="stroke:#d34b59;stroke-width:0.7px">✱</text>
<text transform="translate(671.4,691.6) scale(0.8253,1)" font-family="'DejaVu Sans',sans-serif" font-size="21.24" fill="#d34b59" style="stroke:#d34b59;stroke-width:0.7px">✱</text>
<text transform="translate(712.5,657.6) scale(0.8253,1)" font-family="'DejaVu Sans',sans-serif" font-size="21.24" fill="#d34b59" style="stroke:#d34b59;stroke-width:0.7px">✱</text>
<text transform="translate(825.2,757.4) scale(0.8253,1)" font-family="'DejaVu Sans',sans-serif" font-size="21.24" fill="#d34b59" style="stroke:#d34b59;stroke-width:0.7px">✱</text>
<text transform="translate(870.5,723.9) scale(0.8253,1)" font-family="'DejaVu Sans',sans-serif" font-size="21.24" fill="#d34b59" style="stroke:#d34b59;stroke-width:0.7px">✱</text>
</g>
</g>
<g id="panelD">
<defs><pattern id="dotsD" patternUnits="userSpaceOnUse" x="1389.9" y="885.6" width="15.44" height="33"><rect width="15.44" height="33" fill="#fff"/><circle cx="2" cy="2" r="1.75" fill="#222"/><circle cx="2" cy="18.5" r="1.75" fill="#3a3a3a"/><circle cx="9.72" cy="10.25" r="1.75" fill="#2c2c2c"/><circle cx="9.72" cy="26.75" r="1.7" fill="#666"/></pattern></defs>
<rect x="1169.42" y="966.1" width="22.1" height="36.9" fill="#fff" stroke="#111" stroke-width="2.8" stroke-linejoin="round" rx="1.4"/>
<rect x="1197.68" y="951.7" width="22.1" height="51.3" fill="#fff" stroke="#111" stroke-width="2.8" stroke-linejoin="round" rx="1.4"/>
<rect x="1200.28" y="953.7" width="16.9" height="44.7" fill="#c3c3c3"/>
<rect x="1225.93" y="992.6" width="22.1" height="10.4" fill="url(#dotsD)" stroke="#111" stroke-width="2.8" stroke-linejoin="round" rx="1.4"/>
<rect x="1254.18" y="974" width="22.1" height="29" fill="url(#dark)" stroke="#0a0a0a" stroke-width="3.2" stroke-linejoin="round" rx="1.4"/>
<rect x="1325.44" y="856.9" width="22.1" height="146.1" fill="#fff" stroke="#111" stroke-width="2.8" stroke-linejoin="round" rx="1.4"/>
<rect x="1353.69" y="834.7" width="22.1" height="168.3" fill="#fff" stroke="#111" stroke-width="2.8" stroke-linejoin="round" rx="1.4"/>
<rect x="1356.29" y="836.7" width="16.9" height="161.7" fill="#c3c3c3"/>
<rect x="1381.94" y="832" width="22.1" height="171" fill="url(#dotsD)" stroke="#111" stroke-width="2.8" stroke-linejoin="round" rx="1.4"/>
<rect x="1410.19" y="757.4" width="22.1" height="245.6" fill="url(#dark)" stroke="#0a0a0a" stroke-width="3.2" stroke-linejoin="round" rx="1.4"/>
<rect x="1481.45" y="811.1" width="22.1" height="191.9" fill="#fff" stroke="#111" stroke-width="2.8" stroke-linejoin="round" rx="1.4"/>
<rect x="1509.7" y="733.8" width="22.1" height="269.2" fill="#fff" stroke="#111" stroke-width="2.8" stroke-linejoin="round" rx="1.4"/>
<rect x="1512.3" y="735.8" width="16.9" height="262.6" fill="#c3c3c3"/>
<rect x="1537.95" y="787.5" width="22.1" height="215.5" fill="url(#dotsD)" stroke="#111" stroke-width="2.8" stroke-linejoin="round" rx="1.4"/>
<rect x="1566.2" y="770.5" width="22.1" height="232.5" fill="url(#dark)" stroke="#0a0a0a" stroke-width="3.2" stroke-linejoin="round" rx="1.4"/>
<rect x="1637.46" y="795.4" width="22.1" height="207.6" fill="#fff" stroke="#111" stroke-width="2.8" stroke-linejoin="round" rx="1.4"/>
<rect x="1665.71" y="735.1" width="22.1" height="267.9" fill="#fff" stroke="#111" stroke-width="2.8" stroke-linejoin="round" rx="1.4"/>
<rect x="1668.31" y="737.1" width="16.9" height="261.3" fill="#c3c3c3"/>
<rect x="1693.96" y="770.5" width="22.1" height="232.5" fill="url(#dotsD)" stroke="#111" stroke-width="2.8" stroke-linejoin="round" rx="1.4"/>
<rect x="1722.22" y="729.9" width="22.1" height="273.1" fill="url(#dark)" stroke="#0a0a0a" stroke-width="3.2" stroke-linejoin="round" rx="1.4"/>
<rect x="1793.48" y="765.3" width="22.1" height="237.7" fill="#fff" stroke="#111" stroke-width="2.8" stroke-linejoin="round" rx="1.4"/>
<rect x="1821.73" y="727.3" width="22.1" height="275.7" fill="#fff" stroke="#111" stroke-width="2.8" stroke-linejoin="round" rx="1.4"/>
<rect x="1824.33" y="729.3" width="16.9" height="269.1" fill="#c3c3c3"/>
<rect x="1849.98" y="728.1" width="22.1" height="274.9" fill="url(#dotsD)" stroke="#111" stroke-width="2.8" stroke-linejoin="round" rx="1.4"/>
<rect x="1878.23" y="696.6" width="22.1" height="306.4" fill="url(#dark)" stroke="#0a0a0a" stroke-width="3.2" stroke-linejoin="round" rx="1.4"/>
<path d="M1180.47 963.62V967.38M1174.72 963.62H1186.22M1174.72 967.38H1186.22M1208.72 948.5V953.7M1202.97 948.5H1214.47M1202.97 953.7H1214.47M1236.98 991.45V992.55M1231.23 991.45H1242.73M1231.23 992.55H1242.73M1265.23 971.92V974.88M1259.48 971.92H1270.98M1259.48 974.88H1270.98M1336.49 848.96V863.63M1330.74 848.96H1342.24M1330.74 863.63H1342.24M1364.74 825.65V842.55M1358.99 825.65H1370.49M1358.99 842.55H1370.49M1392.99 822.82V839.98M1387.24 822.82H1398.74M1387.24 839.98H1398.74M1421.24 744.49V769.11M1415.49 744.49H1426.99M1415.49 769.11H1426.99M1492.5 800.88V820.12M1486.75 800.88H1498.25M1486.75 820.12H1498.25M1520.75 719.71V746.69M1515 719.71H1526.5M1515 746.69H1526.5M1549 776.1V797.7M1543.25 776.1H1554.75M1543.25 797.7H1554.75M1577.25 758.25V781.55M1571.5 758.25H1583M1571.5 781.55H1583M1648.51 784.39V805.21M1642.76 784.39H1654.26M1642.76 805.21H1654.26M1676.76 721.08V747.92M1671.01 721.08H1682.51M1671.01 747.92H1682.51M1705.01 758.25V781.55M1699.26 758.25H1710.76M1699.26 781.55H1710.76M1733.26 715.62V742.98M1727.51 715.62H1739.01M1727.51 742.98H1739.01M1804.52 752.79V776.62M1798.77 752.79H1810.27M1798.77 776.62H1810.27M1832.77 712.88V740.52M1827.02 712.88H1838.52M1827.02 740.52H1838.52M1861.03 713.73V741.27M1855.28 713.73H1866.78M1855.28 741.27H1866.78M1889.28 680.65V711.35M1883.53 680.65H1895.03M1883.53 711.35H1895.03" fill="none" stroke="#3a3a3a" stroke-width="2.6"/>
<path d="M1136.3 590.3H1925.3" stroke="#000" stroke-width="2.9" fill="none"/>
<path d="M1925.3 590.3V1013" stroke="#111" stroke-width="2.4" fill="none"/>
<path d="M1146.3 589.3V1013" stroke="#000" stroke-width="3.0" fill="none"/>
<path d="M1136.3 1003H1926.1" stroke="#000" stroke-width="3.0" fill="none"/>
<path d="M1136.3 944.04H1146.3M1136.3 885.09H1146.3M1136.3 826.13H1146.3M1136.3 767.17H1146.3M1136.3 708.21H1146.3M1136.3 649.26H1146.3M1302.1 1003V1013M1457.9 1003V1013M1613.7 1003V1013M1769.5 1003V1013" stroke="#000" stroke-width="2.6" fill="none"/>
<rect x="1174.95" y="610.55" width="11.9" height="13.2" rx="1.0" fill="#fff" stroke="#111" stroke-width="2.5" stroke-linejoin="round"/>
<rect x="1257.75" y="610.55" width="12.4" height="13.2" rx="1.0" fill="#fff" stroke="#111" stroke-width="2.5" stroke-linejoin="round"/>
<rect x="1260.7" y="613.5" width="6.5" height="7.3" fill="#c2c2c2"/>
<rect x="1377.45" y="610.55" width="12.4" height="13.2" rx="1.0" fill="#fff" stroke="#111" stroke-width="2.5" stroke-linejoin="round"/>
<circle cx="1383.65" cy="616.65" r="1.8" fill="#222"/>
<rect x="1458.65" y="610.55" width="12.4" height="13.2" rx="1.0" fill="#737373" stroke="#111" stroke-width="2.5" stroke-linejoin="round"/>
<rect x="1461.4" y="613.3" width="6.9" height="7.7" fill="#878787"/>
<path d="M1172.7 925.9L1234.8 926.7M1234.2 898.8L1273.3 898.8M1323 751.9L1385.4 752.7M1386.2 720.6L1425.2 720.6M1484.8 717.6L1546.7 718.4M1535.5 691.3L1574.5 691.3M1643.1 718.4L1706 719.2M1698.9 691.3L1737.4 691.3M1799 692.2L1861.3 693M1855.5 663.3L1894.5 663.3" stroke="#333" stroke-width="2.4" fill="none"/>
<g stroke="#000" stroke-width="0.35">
<text transform="translate(1098.54,1014.17) scale(0.8237,1)" font-size="34.6" fill="#000" class="s">0</text>
<text transform="translate(1098.54,955.21) scale(0.8237,1)" font-size="34.6" fill="#000" class="s">5</text>
<text transform="translate(1084.29,896.26) scale(0.8237,1)" font-size="34.6" fill="#000" class="s">10</text>
<text transform="translate(1084.29,837.3) scale(0.8237,1)" font-size="34.6" fill="#000" class="s">15</text>
<text transform="translate(1084.29,778.34) scale(0.8237,1)" font-size="34.6" fill="#000" class="s">20</text>
<text transform="translate(1084.29,719.39) scale(0.8237,1)" font-size="34.6" fill="#000" class="s">25</text>
<text transform="translate(1084.29,660.43) scale(0.8237,1)" font-size="34.6" fill="#000" class="s">30</text>
<text transform="translate(1084.29,601.47) scale(0.8237,1)" font-size="34.6" fill="#000" class="s">35</text>
<text transform="translate(1215.15,1051.7) scale(0.8237,1)" font-size="34.6" fill="#000" class="s">5</text>
<text transform="translate(1365.58,1051.7) scale(0.8237,1)" font-size="34.6" fill="#000" class="s">10</text>
<text transform="translate(1521.18,1051.7) scale(0.8237,1)" font-size="34.6" fill="#000" class="s">15</text>
<text transform="translate(1677.55,1051.7) scale(0.8237,1)" font-size="34.6" fill="#000" class="s">20</text>
<text transform="translate(1833.45,1051.7) scale(0.8237,1)" font-size="34.6" fill="#000" class="s">25</text>
<text transform="translate(1402.51,1101.7) scale(0.8371,1)" font-size="44.99" fill="#000">Treatment</text>
<text transform="translate(1571.45,1101.7) scale(0.8231,1)" font-size="44.99" fill="#000">time</text>
<text transform="translate(1644.49,1104.3) scale(0.6408,1)" font-size="44.99" fill="#000" class="p" font-family="'Liberation Serif','Noto Serif CJK SC',serif">（</text>
<text transform="translate(1674.63,1101.7) scale(0.8491,1)" font-size="44.99" fill="#000">d</text>
<text transform="translate(1696.2,1104.3) scale(0.6430,1)" font-size="44.99" fill="#000" class="p" font-family="'Liberation Serif','Noto Serif CJK SC',serif">）</text>
<text transform="translate(1025.3,988.67) rotate(-90) scale(1.1103,1)" font-size="38.5" fill="#000" word-spacing="2.4">LF5 Soluble sugar</text>
<text transform="translate(1071.3,988.25) rotate(-90) scale(1.0874,1)" font-size="39.75" fill="#000" word-spacing="2.4">content(mg/g FW)</text>
<text transform="translate(1192.8,625.8) scale(0.7851,1)" font-size="32.54" fill="#000" class="s">CK</text>
<text transform="translate(1276.3,625.8) scale(0.7872,1)" font-size="32.54" fill="#000" class="s">Pro-Ca</text>
<text transform="translate(1395.58,625.8) scale(0.7960,1)" font-size="32.54" fill="#000" class="s">SA</text>
<text transform="translate(1475.98,625.8) scale(0.7967,1)" font-size="32.54" fill="#000" class="s">SA+Pro-Ca</text>
</g>
<g>
<text transform="translate(1188.9,924.8) scale(0.8253,1)" font-family="'DejaVu Sans',sans-serif" font-size="21.24" fill="#598bca" style="stroke:#598bca;stroke-width:0.7px">✱</text>
<text transform="translate(1205.9,924.8) scale(0.8253,1)" font-family="'DejaVu Sans',sans-serif" font-size="21.24" fill="#598bca" style="stroke:#598bca;stroke-width:0.7px">✱</text>
<text transform="translate(1236.8,897.3) scale(0.8253,1)" font-family="'DejaVu Sans',sans-serif" font-size="21.24" fill="#d34b59" style="stroke:#d34b59;stroke-width:0.7px">✱</text>
<text transform="translate(1253,897.3) scale(0.8253,1)" font-family="'DejaVu Sans',sans-serif" font-size="21.24" fill="#d34b59" style="stroke:#d34b59;stroke-width:0.7px">✱</text>
<text transform="translate(1347.3,750.8) scale(0.8253,1)" font-family="'DejaVu Sans',sans-serif" font-size="21.24" fill="#d34b59" style="stroke:#d34b59;stroke-width:0.7px">✱</text>
<text transform="translate(1397.6,719.1) scale(0.8253,1)" font-family="'DejaVu Sans',sans-serif" font-size="21.24" fill="#d34b59" style="stroke:#d34b59;stroke-width:0.7px">✱</text>
<text transform="translate(1509.8,716.5) scale(0.8253,1)" font-family="'DejaVu Sans',sans-serif" font-size="21.24" fill="#d34b59" style="stroke:#d34b59;stroke-width:0.7px">✱</text>
<text transform="translate(1544.8,689.8) scale(0.8253,1)" font-family="'DejaVu Sans',sans-serif" font-size="21.24" fill="#d34b59" style="stroke:#d34b59;stroke-width:0.7px">✱</text>
<text transform="translate(1667.4,717.3) scale(0.8253,1)" font-family="'DejaVu Sans',sans-serif" font-size="21.24" fill="#d34b59" style="stroke:#d34b59;stroke-width:0.7px">✱</text>
<text transform="translate(1708.5,689.8) scale(0.8253,1)" font-family="'DejaVu Sans',sans-serif" font-size="21.24" fill="#d34b59" style="stroke:#d34b59;stroke-width:0.7px">✱</text>
<text transform="translate(1823.2,691.1) scale(0.8253,1)" font-family="'DejaVu Sans',sans-serif" font-size="21.24" fill="#d34b59" style="stroke:#d34b59;stroke-width:0.7px">✱</text>
<text transform="translate(1866.4,661.8) scale(0.8253,1)" font-family="'DejaVu Sans',sans-serif" font-size="21.24" fill="#d34b59" style="stroke:#d34b59;stroke-width:0.7px">✱</text>
</g>
</g>
<g id="panelE">
<defs><pattern id="dotsE" patternUnits="userSpaceOnUse" x="391.5" y="1487.4" width="15.92" height="32.52"><rect width="15.92" height="32.52" fill="#fff"/><circle cx="2" cy="2" r="1.75" fill="#222"/><circle cx="2" cy="18.26" r="1.75" fill="#3a3a3a"/><circle cx="9.96" cy="10.13" r="1.75" fill="#2c2c2c"/><circle cx="9.96" cy="26.39" r="1.7" fill="#666"/></pattern></defs>
<rect x="167.82" y="1522" width="22.65" height="56.3" fill="#fff" stroke="#111" stroke-width="2.8" stroke-linejoin="round" rx="1.4"/>
<rect x="196.79" y="1508.6" width="22.65" height="69.7" fill="#fff" stroke="#111" stroke-width="2.8" stroke-linejoin="round" rx="1.4"/>
<rect x="199.39" y="1510.6" width="17.45" height="63.1" fill="#c3c3c3"/>
<rect x="225.76" y="1494.5" width="22.65" height="83.8" fill="url(#dotsE)" stroke="#111" stroke-width="2.8" stroke-linejoin="round" rx="1.4"/>
<rect x="254.72" y="1484.6" width="22.65" height="93.7" fill="url(#dark)" stroke="#0a0a0a" stroke-width="3.2" stroke-linejoin="round" rx="1.4"/>
<rect x="328.21" y="1496.9" width="22.65" height="81.4" fill="#fff" stroke="#111" stroke-width="2.8" stroke-linejoin="round" rx="1.4"/>
<rect x="357.18" y="1475.4" width="22.65" height="102.9" fill="#fff" stroke="#111" stroke-width="2.8" stroke-linejoin="round" rx="1.4"/>
<rect x="359.78" y="1477.4" width="17.45" height="96.3" fill="#c3c3c3"/>
<rect x="386.14" y="1472.2" width="22.65" height="106.1" fill="url(#dotsE)" stroke="#111" stroke-width="2.8" stroke-linejoin="round" rx="1.4"/>
<rect x="415.11" y="1447.9" width="22.65" height="130.4" fill="url(#dark)" stroke="#0a0a0a" stroke-width="3.2" stroke-linejoin="round" rx="1.4"/>
<rect x="488.6" y="1451.8" width="22.65" height="126.5" fill="#fff" stroke="#111" stroke-width="2.8" stroke-linejoin="round" rx="1.4"/>
<rect x="517.57" y="1442.6" width="22.65" height="135.7" fill="#fff" stroke="#111" stroke-width="2.8" stroke-linejoin="round" rx="1.4"/>
<rect x="520.17" y="1444.6" width="17.45" height="129.1" fill="#c3c3c3"/>
<rect x="546.53" y="1364.8" width="22.65" height="213.5" fill="url(#dotsE)" stroke="#111" stroke-width="2.8" stroke-linejoin="round" rx="1.4"/>
<rect x="575.5" y="1333.9" width="22.65" height="244.4" fill="url(#dark)" stroke="#0a0a0a" stroke-width="3.2" stroke-linejoin="round" rx="1.4"/>
<rect x="648.99" y="1440" width="22.65" height="138.3" fill="#fff" stroke="#111" stroke-width="2.8" stroke-linejoin="round" rx="1.4"/>
<rect x="677.95" y="1419.1" width="22.65" height="159.2" fill="#fff" stroke="#111" stroke-width="2.8" stroke-linejoin="round" rx="1.4"/>
<rect x="680.55" y="1421.1" width="17.45" height="152.6" fill="#c3c3c3"/>
<rect x="706.92" y="1362.2" width="22.65" height="216.1" fill="url(#dotsE)" stroke="#111" stroke-width="2.8" stroke-linejoin="round" rx="1.4"/>
<rect x="735.88" y="1337.9" width="22.65" height="240.4" fill="url(#dark)" stroke="#0a0a0a" stroke-width="3.2" stroke-linejoin="round" rx="1.4"/>
<rect x="809.38" y="1428.2" width="22.65" height="150.1" fill="#fff" stroke="#111" stroke-width="2.8" stroke-linejoin="round" rx="1.4"/>
<rect x="838.34" y="1407.8" width="22.65" height="170.5" fill="#fff" stroke="#111" stroke-width="2.8" stroke-linejoin="round" rx="1.4"/>
<rect x="840.94" y="1409.8" width="17.45" height="163.9" fill="#c3c3c3"/>
<rect x="867.31" y="1375.3" width="22.65" height="203" fill="url(#dotsE)" stroke="#111" stroke-width="2.8" stroke-linejoin="round" rx="1.4"/>
<rect x="896.27" y="1343.1" width="22.65" height="235.2" fill="url(#dark)" stroke="#0a0a0a" stroke-width="3.2" stroke-linejoin="round" rx="1.4"/>
<path d="M179.15 1518.56V1524.25M173.4 1518.56H184.9M173.4 1524.25H184.9M208.12 1504.48V1511.52M202.37 1504.48H213.87M202.37 1511.52H213.87M237.08 1489.68V1498.12M231.33 1489.68H242.83M231.33 1498.12H242.83M266.05 1479.29V1488.71M260.3 1479.29H271.8M260.3 1488.71H271.8M339.54 1492.2V1500.4M333.79 1492.2H345.29M333.79 1500.4H345.29M368.5 1469.62V1479.97M362.75 1469.62H374.25M362.75 1479.97H374.25M397.47 1466.26V1476.93M391.72 1466.26H403.22M391.72 1476.93H403.22M426.44 1440.75V1453.85M420.69 1440.75H432.19M420.69 1453.85H432.19M499.93 1444.85V1457.56M494.18 1444.85H505.68M494.18 1457.56H505.68M528.89 1435.18V1448.82M523.14 1435.18H534.64M523.14 1448.82H534.64M557.86 1353.5V1374.9M552.11 1353.5H563.61M552.11 1374.9H563.61M586.82 1321.05V1345.55M581.07 1321.05H592.57M581.07 1345.55H592.57M660.31 1432.46V1446.35M654.56 1432.46H666.06M654.56 1446.35H666.06M689.28 1410.51V1426.49M683.53 1410.51H695.03M683.53 1426.49H695.03M718.25 1350.76V1372.43M712.5 1350.76H724M712.5 1372.43H724M747.21 1325.25V1349.35M741.46 1325.25H752.96M741.46 1349.35H752.96M820.7 1420.06V1435.13M814.95 1420.06H826.45M814.95 1435.13H826.45M849.67 1398.64V1415.76M843.92 1398.64H855.42M843.92 1415.76H855.42M878.63 1364.52V1384.88M872.88 1364.52H884.38M872.88 1384.88H884.38M907.6 1330.71V1354.29M901.85 1330.71H913.35M901.85 1354.29H913.35" fill="none" stroke="#3a3a3a" stroke-width="2.6"/>
<path d="M132 1162.6H945" stroke="#000" stroke-width="2.9" fill="none"/>
<path d="M945 1162.6V1588.3" stroke="#111" stroke-width="2.4" fill="none"/>
<path d="M142 1161.6V1588.3" stroke="#000" stroke-width="3.0" fill="none"/>
<path d="M132 1578.3H945.8" stroke="#000" stroke-width="3.0" fill="none"/>
<path d="M132 1495.16H142M132 1412.02H142M132 1328.88H142M132 1245.74H142M302.6 1578.3V1588.3M463.2 1578.3V1588.3M623.8 1578.3V1588.3M784.4 1578.3V1588.3" stroke="#000" stroke-width="2.6" fill="none"/>
<rect x="181.75" y="1176.95" width="12" height="13.2" rx="1.0" fill="#fff" stroke="#111" stroke-width="2.5" stroke-linejoin="round"/>
<rect x="266.65" y="1176.95" width="11.9" height="13.2" rx="1.0" fill="#fff" stroke="#111" stroke-width="2.5" stroke-linejoin="round"/>
<rect x="269.6" y="1179.9" width="6" height="7.3" fill="#c2c2c2"/>
<rect x="387.15" y="1176.95" width="11.4" height="13.2" rx="1.0" fill="#fff" stroke="#111" stroke-width="2.5" stroke-linejoin="round"/>
<circle cx="392.85" cy="1183.05" r="1.8" fill="#222"/>
<rect x="467.85" y="1176.95" width="11.9" height="13.2" rx="1.0" fill="#737373" stroke="#111" stroke-width="2.5" stroke-linejoin="round"/>
<rect x="470.6" y="1179.7" width="6.4" height="7.7" fill="#878787"/>
<path d="M179.2 1463.4L239.5 1464.2M234.8 1433.7L271.4 1433.7M336.9 1458.1L397.2 1458.9M397.9 1432.9L435.1 1432.9M502.7 1336.1L562.7 1336.9M554.3 1304.5L592.3 1304.5M657.9 1335L718.1 1335.8M718.9 1304.5L756.9 1304.5M813.2 1335L873.9 1335.8M874.5 1305L911.4 1305" stroke="#333" stroke-width="2.4" fill="none"/>
<g stroke="#000" stroke-width="0.35">
<text transform="translate(104.34,1588.27) scale(0.8309,1)" font-size="34.3" fill="#000" class="s">0</text>
<text transform="translate(104.79,1505.13) scale(0.8309,1)" font-size="34.3" fill="#000" class="s">2</text>
<text transform="translate(103.9,1421.99) scale(0.8309,1)" font-size="34.3" fill="#000" class="s">4</text>
<text transform="translate(103.9,1338.85) scale(0.8309,1)" font-size="34.3" fill="#000" class="s">6</text>
<text transform="translate(104.34,1255.71) scale(0.8309,1)" font-size="34.3" fill="#000" class="s">8</text>
<text transform="translate(90.09,1172.57) scale(0.8309,1)" font-size="34.3" fill="#000" class="s">10</text>
<text transform="translate(214.35,1626.3) scale(0.8309,1)" font-size="34.3" fill="#000" class="s">5</text>
<text transform="translate(368.98,1626.3) scale(0.8309,1)" font-size="34.3" fill="#000" class="s">10</text>
<text transform="translate(529.48,1626.3) scale(0.8309,1)" font-size="34.3" fill="#000" class="s">15</text>
<text transform="translate(689.65,1626.3) scale(0.8309,1)" font-size="34.3" fill="#000" class="s">20</text>
<text transform="translate(849.75,1626.3) scale(0.8309,1)" font-size="34.3" fill="#000" class="s">25</text>
<text transform="translate(400.42,1673) scale(0.8692,1)" font-size="42.56" fill="#000">Treatment</text>
<text transform="translate(566.36,1673) scale(0.8547,1)" font-size="42.56" fill="#000">time</text>
<text transform="translate(638.09,1675.6) scale(0.6653,1)" font-size="42.56" fill="#000" class="p" font-family="'Liberation Serif','Noto Serif CJK SC',serif">（</text>
<text transform="translate(667.7,1673) scale(0.8816,1)" font-size="42.56" fill="#000">d</text>
<text transform="translate(688.89,1675.6) scale(0.6677,1)" font-size="42.56" fill="#000" class="p" font-family="'Liberation Serif','Noto Serif CJK SC',serif">）</text>
<text transform="translate(45.3,1534.36) rotate(-90) scale(1.1139,1)" font-size="37.73" fill="#000" word-spacing="2.4">LF2 Proline content</text>
<text transform="translate(91.3,1455.25) rotate(-90) scale(1.1115,1)" font-size="38.96" fill="#000" word-spacing="2.4">(μg/g FW)</text>
<text transform="translate(199.93,1191.9) scale(0.7602,1)" font-size="32.54" fill="#000" class="s">CK</text>
<text transform="translate(284.11,1191.9) scale(0.7675,1)" font-size="32.54" fill="#000" class="s">Pro-Ca</text>
<text transform="translate(403.45,1191.9) scale(0.7631,1)" font-size="32.54" fill="#000" class="s">SA</text>
<text transform="translate(484.1,1191.9) scale(0.7860,1)" font-size="32.54" fill="#000" class="s">SA+Pro-Ca</text>
</g>
<g>
<text transform="translate(202.5,1462.3) scale(0.8253,1)" font-family="'DejaVu Sans',sans-serif" font-size="21.24" fill="#d34b59" style="stroke:#d34b59;stroke-width:0.7px">✱</text>
<text transform="translate(244.4,1432.2) scale(0.8253,1)" font-family="'DejaVu Sans',sans-serif" font-size="21.24" fill="#d34b59" style="stroke:#d34b59;stroke-width:0.7px">✱</text>
<text transform="translate(358.3,1457) scale(0.8253,1)" font-family="'DejaVu Sans',sans-serif" font-size="21.24" fill="#d34b59" style="stroke:#d34b59;stroke-width:0.7px">✱</text>
<text transform="translate(408.1,1431.4) scale(0.8253,1)" font-family="'DejaVu Sans',sans-serif" font-size="21.24" fill="#d34b59" style="stroke:#d34b59;stroke-width:0.7px">✱</text>
<text transform="translate(524.6,1335) scale(0.8253,1)" font-family="'DejaVu Sans',sans-serif" font-size="21.24" fill="#d34b59" style="stroke:#d34b59;stroke-width:0.7px">✱</text>
<text transform="translate(564.7,1303) scale(0.8253,1)" font-family="'DejaVu Sans',sans-serif" font-size="21.24" fill="#d34b59" style="stroke:#d34b59;stroke-width:0.7px">✱</text>
<text transform="translate(678.7,1333.9) scale(0.8253,1)" font-family="'DejaVu Sans',sans-serif" font-size="21.24" fill="#d34b59" style="stroke:#d34b59;stroke-width:0.7px">✱</text>
<text transform="translate(730.3,1303) scale(0.8253,1)" font-family="'DejaVu Sans',sans-serif" font-size="21.24" fill="#d34b59" style="stroke:#d34b59;stroke-width:0.7px">✱</text>
<text transform="translate(833.8,1333.9) scale(0.8253,1)" font-family="'DejaVu Sans',sans-serif" font-size="21.24" fill="#d34b59" style="stroke:#d34b59;stroke-width:0.7px">✱</text>
<text transform="translate(883.6,1303.5) scale(0.8253,1)" font-family="'DejaVu Sans',sans-serif" font-size="21.24" fill="#d34b59" style="stroke:#d34b59;stroke-width:0.7px">✱</text>
</g>
</g>
<g id="panelF">
<defs><pattern id="dotsF" patternUnits="userSpaceOnUse" x="1384" y="1488.2" width="15.86" height="32.2"><rect width="15.86" height="32.2" fill="#fff"/><circle cx="2" cy="2" r="1.75" fill="#222"/><circle cx="2" cy="18.1" r="1.75" fill="#3a3a3a"/><circle cx="9.93" cy="10.05" r="1.75" fill="#2c2c2c"/><circle cx="9.93" cy="26.15" r="1.7" fill="#666"/></pattern></defs>
<rect x="1158.93" y="1514.7" width="22.74" height="58.1" fill="#fff" stroke="#111" stroke-width="2.8" stroke-linejoin="round" rx="1.4"/>
<rect x="1188" y="1504.7" width="22.74" height="68.1" fill="#fff" stroke="#111" stroke-width="2.8" stroke-linejoin="round" rx="1.4"/>
<rect x="1190.6" y="1506.7" width="17.54" height="61.5" fill="#c3c3c3"/>
<rect x="1217.07" y="1481.4" width="22.74" height="91.4" fill="url(#dotsF)" stroke="#111" stroke-width="2.8" stroke-linejoin="round" rx="1.4"/>
<rect x="1246.14" y="1471.4" width="22.74" height="101.4" fill="url(#dark)" stroke="#0a0a0a" stroke-width="3.2" stroke-linejoin="round" rx="1.4"/>
<rect x="1319.06" y="1500.8" width="22.74" height="72" fill="#fff" stroke="#111" stroke-width="2.8" stroke-linejoin="round" rx="1.4"/>
<rect x="1348.13" y="1474.9" width="22.74" height="97.9" fill="#fff" stroke="#111" stroke-width="2.8" stroke-linejoin="round" rx="1.4"/>
<rect x="1350.73" y="1476.9" width="17.54" height="91.3" fill="#c3c3c3"/>
<rect x="1377.2" y="1468.8" width="22.74" height="104" fill="url(#dotsF)" stroke="#111" stroke-width="2.8" stroke-linejoin="round" rx="1.4"/>
<rect x="1406.27" y="1449.2" width="22.74" height="123.6" fill="url(#dark)" stroke="#0a0a0a" stroke-width="3.2" stroke-linejoin="round" rx="1.4"/>
<rect x="1479.2" y="1487.9" width="22.74" height="84.9" fill="#fff" stroke="#111" stroke-width="2.8" stroke-linejoin="round" rx="1.4"/>
<rect x="1508.27" y="1472.2" width="22.74" height="100.6" fill="#fff" stroke="#111" stroke-width="2.8" stroke-linejoin="round" rx="1.4"/>
<rect x="1510.87" y="1474.2" width="17.54" height="94" fill="#c3c3c3"/>
<rect x="1537.34" y="1374.3" width="22.74" height="198.5" fill="url(#dotsF)" stroke="#111" stroke-width="2.8" stroke-linejoin="round" rx="1.4"/>
<rect x="1566.41" y="1348.9" width="22.74" height="223.9" fill="url(#dark)" stroke="#0a0a0a" stroke-width="3.2" stroke-linejoin="round" rx="1.4"/>
<rect x="1639.34" y="1451.8" width="22.74" height="121" fill="#fff" stroke="#111" stroke-width="2.8" stroke-linejoin="round" rx="1.4"/>
<rect x="1668.41" y="1410.4" width="22.74" height="162.4" fill="#fff" stroke="#111" stroke-width="2.8" stroke-linejoin="round" rx="1.4"/>
<rect x="1671.01" y="1412.4" width="17.54" height="155.8" fill="#c3c3c3"/>
<rect x="1697.48" y="1369.3" width="22.74" height="203.5" fill="url(#dotsF)" stroke="#111" stroke-width="2.8" stroke-linejoin="round" rx="1.4"/>
<rect x="1726.55" y="1337.1" width="22.74" height="235.7" fill="url(#dark)" stroke="#0a0a0a" stroke-width="3.2" stroke-linejoin="round" rx="1.4"/>
<rect x="1799.48" y="1426.1" width="22.74" height="146.7" fill="#fff" stroke="#111" stroke-width="2.8" stroke-linejoin="round" rx="1.4"/>
<rect x="1828.55" y="1382.4" width="22.74" height="190.4" fill="#fff" stroke="#111" stroke-width="2.8" stroke-linejoin="round" rx="1.4"/>
<rect x="1831.15" y="1384.4" width="17.54" height="183.8" fill="#c3c3c3"/>
<rect x="1857.62" y="1362.2" width="22.74" height="210.6" fill="url(#dotsF)" stroke="#111" stroke-width="2.8" stroke-linejoin="round" rx="1.4"/>
<rect x="1886.69" y="1328.7" width="22.74" height="244.1" fill="url(#dark)" stroke="#0a0a0a" stroke-width="3.2" stroke-linejoin="round" rx="1.4"/>
<path d="M1170.29 1511.16V1517.03M1164.54 1511.16H1176.04M1164.54 1517.03H1176.04M1199.36 1500.66V1507.53M1193.61 1500.66H1205.11M1193.61 1507.53H1205.11M1228.44 1476.2V1485.4M1222.69 1476.2H1234.19M1222.69 1485.4H1234.19M1257.51 1465.7V1475.9M1251.76 1465.7H1263.26M1251.76 1475.9H1263.26M1330.43 1496.57V1503.83M1324.68 1496.57H1336.18M1324.68 1503.83H1336.18M1359.5 1469.38V1479.22M1353.75 1469.38H1365.25M1353.75 1479.22H1365.25M1388.57 1462.97V1473.43M1382.82 1462.97H1394.32M1382.82 1473.43H1394.32M1417.64 1442.39V1454.81M1411.89 1442.39H1423.39M1411.89 1454.81H1423.39M1490.57 1483.02V1491.58M1484.82 1483.02H1496.32M1484.82 1491.58H1496.32M1519.64 1466.54V1476.66M1513.89 1466.54H1525.39M1513.89 1476.66H1525.39M1548.71 1363.75V1383.65M1542.96 1363.75H1554.46M1542.96 1383.65H1554.46M1577.78 1337.08V1359.52M1572.03 1337.08H1583.53M1572.03 1359.52H1583.53M1650.71 1445.12V1457.28M1644.96 1445.12H1656.46M1644.96 1457.28H1656.46M1679.78 1401.65V1417.95M1674.03 1401.65H1685.53M1674.03 1417.95H1685.53M1708.85 1358.5V1378.9M1703.1 1358.5H1714.6M1703.1 1378.9H1714.6M1737.92 1324.68V1348.32M1732.17 1324.68H1743.67M1732.17 1348.32H1743.67M1810.84 1418.13V1432.87M1805.09 1418.13H1816.59M1805.09 1432.87H1816.59M1839.91 1372.25V1391.35M1834.16 1372.25H1845.66M1834.16 1391.35H1845.66M1868.99 1351.04V1372.16M1863.24 1351.04H1874.74M1863.24 1372.16H1874.74M1898.06 1315.87V1340.33M1892.31 1315.87H1903.81M1892.31 1340.33H1903.81" fill="none" stroke="#3a3a3a" stroke-width="2.6"/>
<path d="M1124.3 1163.1H1934.8" stroke="#000" stroke-width="2.9" fill="none"/>
<path d="M1934.8 1163.1V1582.8" stroke="#111" stroke-width="2.4" fill="none"/>
<path d="M1134.3 1162.1V1582.8" stroke="#000" stroke-width="3.0" fill="none"/>
<path d="M1124.3 1572.8H1935.6" stroke="#000" stroke-width="3.0" fill="none"/>
<path d="M1124.3 1490.86H1134.3M1124.3 1408.92H1134.3M1124.3 1326.98H1134.3M1124.3 1245.04H1134.3M1294.4 1572.8V1582.8M1454.5 1572.8V1582.8M1614.6 1572.8V1582.8M1774.7 1572.8V1582.8" stroke="#000" stroke-width="2.6" fill="none"/>
<rect x="1167.65" y="1184.75" width="12.1" height="13.2" rx="1.0" fill="#fff" stroke="#111" stroke-width="2.5" stroke-linejoin="round"/>
<rect x="1250.35" y="1184.75" width="11.9" height="13.2" rx="1.0" fill="#fff" stroke="#111" stroke-width="2.5" stroke-linejoin="round"/>
<rect x="1253.3" y="1187.7" width="6" height="7.3" fill="#c2c2c2"/>
<rect x="1371.35" y="1184.75" width="11.9" height="13.2" rx="1.0" fill="#fff" stroke="#111" stroke-width="2.5" stroke-linejoin="round"/>
<circle cx="1377.3" cy="1190.85" r="1.8" fill="#222"/>
<rect x="1450.75" y="1184.75" width="11.9" height="13.2" rx="1.0" fill="#737373" stroke="#111" stroke-width="2.5" stroke-linejoin="round"/>
<rect x="1453.5" y="1187.5" width="6.4" height="7.7" fill="#878787"/>
<path d="M1165.8 1433.8L1228.7 1434.6M1326.4 1433.8L1389.2 1434.6M1390.3 1402.2L1429.6 1402.2M1494.5 1350L1557.4 1350.8M1548 1318.9L1587 1318.9M1655.7 1349.2L1718.5 1350M1703.6 1317.6L1742.6 1317.6M1805 1348.7L1867.8 1349.5M1863.4 1310.3L1902.7 1310.3" stroke="#333" stroke-width="2.4" fill="none"/>
<g stroke="#000" stroke-width="0.35">
<text transform="translate(1094.34,1583.29) scale(0.8261,1)" font-size="34.5" fill="#000" class="s">0</text>
<text transform="translate(1094.79,1501.35) scale(0.8261,1)" font-size="34.5" fill="#000" class="s">2</text>
<text transform="translate(1093.9,1419.41) scale(0.8261,1)" font-size="34.5" fill="#000" class="s">4</text>
<text transform="translate(1093.9,1337.47) scale(0.8261,1)" font-size="34.5" fill="#000" class="s">6</text>
<text transform="translate(1094.34,1255.53) scale(0.8261,1)" font-size="34.5" fill="#000" class="s">8</text>
<text transform="translate(1080.09,1173.59) scale(0.8261,1)" font-size="34.5" fill="#000" class="s">10</text>
<text transform="translate(1206.05,1621.3) scale(0.8261,1)" font-size="34.5" fill="#000" class="s">5</text>
<text transform="translate(1359.58,1621.3) scale(0.8261,1)" font-size="34.5" fill="#000" class="s">10</text>
<text transform="translate(1520.78,1621.3) scale(0.8261,1)" font-size="34.5" fill="#000" class="s">15</text>
<text transform="translate(1680.25,1621.3) scale(0.8261,1)" font-size="34.5" fill="#000" class="s">20</text>
<text transform="translate(1840.25,1621.3) scale(0.8261,1)" font-size="34.5" fill="#000" class="s">25</text>
<text transform="translate(1385.8,1670) scale(0.9060,1)" font-size="42.26" fill="#000">Treatment</text>
<text transform="translate(1557.52,1670) scale(0.8909,1)" font-size="42.26" fill="#000">time</text>
<text transform="translate(1631.76,1672.6) scale(0.6935,1)" font-size="42.26" fill="#000" class="p" font-family="'Liberation Serif','Noto Serif CJK SC',serif">（</text>
<text transform="translate(1662.4,1670) scale(0.9189,1)" font-size="42.26" fill="#000">d</text>
<text transform="translate(1684.33,1672.6) scale(0.6960,1)" font-size="42.26" fill="#000" class="p" font-family="'Liberation Serif','Noto Serif CJK SC',serif">）</text>
<text transform="translate(1035.3,1541.95) rotate(-90) scale(1.1060,1)" font-size="37.73" fill="#000" word-spacing="2.4">LF5 Proline content</text>
<text transform="translate(1082,1460.83) rotate(-90) scale(1.0908,1)" font-size="38.96" fill="#000" word-spacing="2.4">(μg/g FW)</text>
<text transform="translate(1185.5,1199.8) scale(0.7789,1)" font-size="32.7" fill="#000" class="s">CK</text>
<text transform="translate(1268.39,1199.8) scale(0.7974,1)" font-size="32.7" fill="#000" class="s">Pro-Ca</text>
<text transform="translate(1388.21,1199.8) scale(0.7794,1)" font-size="32.7" fill="#000" class="s">SA</text>
<text transform="translate(1468.06,1199.8) scale(0.8032,1)" font-size="32.7" fill="#000" class="s">SA+Pro-Ca</text>
</g>
<g>
<text transform="translate(1190.6,1432.7) scale(0.8253,1)" font-family="'DejaVu Sans',sans-serif" font-size="21.24" fill="#d34b59" style="stroke:#d34b59;stroke-width:0.7px">✱</text>
<text transform="translate(1350.9,1432.7) scale(0.8253,1)" font-family="'DejaVu Sans',sans-serif" font-size="21.24" fill="#d34b59" style="stroke:#d34b59;stroke-width:0.7px">✱</text>
<text transform="translate(1401.5,1400.7) scale(0.8253,1)" font-family="'DejaVu Sans',sans-serif" font-size="21.24" fill="#d34b59" style="stroke:#d34b59;stroke-width:0.7px">✱</text>
<text transform="translate(1509.2,1348.9) scale(0.8253,1)" font-family="'DejaVu Sans',sans-serif" font-size="21.24" fill="#d34b59" style="stroke:#d34b59;stroke-width:0.7px">✱</text>
<text transform="translate(1525.9,1348.9) scale(0.8253,1)" font-family="'DejaVu Sans',sans-serif" font-size="21.24" fill="#d34b59" style="stroke:#d34b59;stroke-width:0.7px">✱</text>
<text transform="translate(1559.2,1317.4) scale(0.8253,1)" font-family="'DejaVu Sans',sans-serif" font-size="21.24" fill="#d34b59" style="stroke:#d34b59;stroke-width:0.7px">✱</text>
<text transform="translate(1678.9,1348.1) scale(0.8253,1)" font-family="'DejaVu Sans',sans-serif" font-size="21.24" fill="#d34b59" style="stroke:#d34b59;stroke-width:0.7px">✱</text>
<text transform="translate(1713.8,1316.1) scale(0.8253,1)" font-family="'DejaVu Sans',sans-serif" font-size="21.24" fill="#d34b59" style="stroke:#d34b59;stroke-width:0.7px">✱</text>
<text transform="translate(1825.9,1347.6) scale(0.8253,1)" font-family="'DejaVu Sans',sans-serif" font-size="21.24" fill="#d34b59" style="stroke:#d34b59;stroke-width:0.7px">✱</text>
<text transform="translate(1873.5,1308.8) scale(0.8253,1)" font-family="'DejaVu Sans',sans-serif" font-size="21.24" fill="#d34b59" style="stroke:#d34b59;stroke-width:0.7px">✱</text>
</g>
</g>
</svg></body></html>
